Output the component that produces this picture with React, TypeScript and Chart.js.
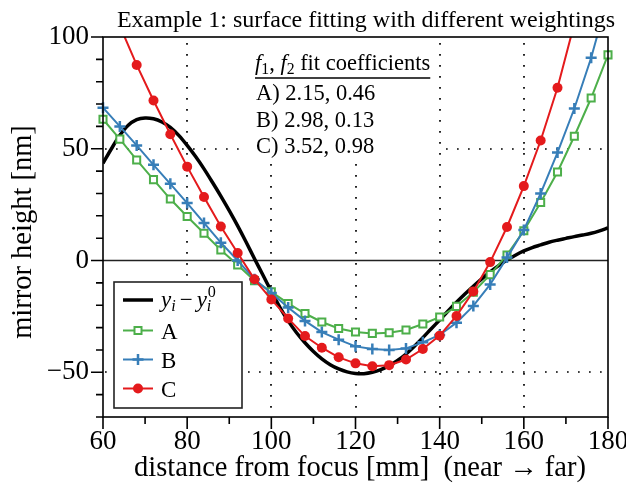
import React, { useEffect, useRef } from 'react';
import { Chart, registerables } from 'chart.js';

Chart.register(...registerables);

// ---------------- data ----------------
const fitX = [60, 64, 68, 72, 76, 80, 84, 88, 92, 96, 100, 104, 108, 112, 116, 120, 124, 128, 132, 136, 140, 144, 148, 152, 156, 160, 164, 168, 172, 176, 180];
const seriesA = [63.2, 54.3, 45, 36.2, 27.5, 19.7, 12.2, 4.7, -2, -9, -14, -19.2, -23.7, -27.5, -30.4, -32, -32.6, -32.3, -31.1, -28.4, -25.3, -20.5, -14.2, -6.3, 2.5, 13.3, 26, 39.6, 55.6, 72.7, 92];
const seriesB = [68.4, 60, 51.5, 42.8, 34.3, 25.7, 16.8, 8, 0, -8.4, -14.5, -21, -27, -32, -35.4, -38.4, -39.6, -40, -39.3, -36.6, -33.3, -27.8, -20.3, -10.7, 1.3, 13.7, 30, 48.3, 68, 90.7, 118];
const seriesC = [122, 105, 87.5, 71.6, 56.5, 42, 28.4, 15.2, 3.4, -8.4, -17.4, -25.9, -33.8, -39, -43.3, -46, -47.3, -46.8, -44.3, -39.6, -33.6, -24.8, -13.8, -0.7, 15, 33.3, 53.7, 77.3, 106, 140, 175];

const refX = [60, 62, 64, 66, 68, 70, 72, 74, 76, 78, 80, 82, 84, 86, 88, 90, 92, 94, 96, 98, 100, 102, 104, 106, 108, 110, 112, 114, 116, 118, 120, 122, 124, 126, 128, 130, 132, 134, 136, 138, 140, 142, 144, 146, 148, 150, 152, 154, 156, 158, 160, 162, 164, 166, 168, 170, 172, 174, 176, 178, 180];
const refY = [43.5, 50, 56, 60.5, 63, 63.8, 63.4, 62, 59.6, 56, 51.5, 46.5, 41, 35, 28.8, 22.3, 15.5, 8.3, 0.8, -6.5, -13.8, -20.8, -27, -32.3, -36.8, -40.7, -44, -46.6, -48.5, -49.8, -50.5, -50.6, -50, -48.8, -47, -44.7, -41.8, -38.3, -34.5, -30.5, -26.6, -22.6, -18.7, -15, -11.5, -8.2, -5.1, -2.3, 0.2, 2.4, 4.3, 5.8, 7, 8.2, 9.1, 9.9, 10.7, 11.4, 12.2, 13.3, 14.6];

const xTicks = [60, 80, 100, 120, 140, 160, 180];
const yTicks = [-50, 0, 50, 100];
const xGridDotted = [80, 100, 120, 140, 160];
const yGridDotted = [-50, 50];
const seriesNames = ['A', 'B', 'C'];
const coefficientRows = ['A) 2.15, 0.46', 'B) 2.98, 0.13', 'C) 3.52, 0.98'];

const titleText = 'Example 1: surface fitting with different weightings';
const xTitle = 'distance from focus [mm]  (near \u2192 far)';
const yTitle = 'mirror height [nm]';

const GREEN = '#4daf4a';
const BLUE = '#377eb8';
const RED = '#e41a1c';
const FONT = '"Liberation Serif", "Times New Roman", serif';
const FS_TICK = 27;
const FS_AXIS = 28.5;
const FS_TITLE = 24;
const FS_BOX = 22.5;
const FS_LEG = 23;

function drawMarker(ctx: CanvasRenderingContext2D, style: string, x: number, y: number, color: string) {
  ctx.save();
  ctx.strokeStyle = color;
  ctx.fillStyle = color;
  if (style === 'rect') {
    ctx.lineWidth = 2;
    ctx.fillStyle = '#fff';
    ctx.beginPath();
    ctx.rect(x - 3.5, y - 3.5, 7, 7);
    ctx.fill();
    ctx.stroke();
  } else if (style === 'cross') {
    ctx.lineWidth = 2.5;
    ctx.beginPath();
    ctx.moveTo(x - 5.5, y);
    ctx.lineTo(x + 5.5, y);
    ctx.moveTo(x, y - 5.5);
    ctx.lineTo(x, y + 5.5);
    ctx.stroke();
  } else {
    ctx.beginPath();
    ctx.arc(x, y, 5, 0, Math.PI * 2);
    ctx.fill();
  }
  ctx.restore();
}

const decor = {
  id: 'decor',
  beforeDatasetsDraw(chart: any) {
    const { ctx, chartArea: a, scales } = chart;
    const xs = scales.x;
    const ys = scales.y;
    ctx.save();
    ctx.strokeStyle = '#000';
    ctx.lineWidth = 1.7;
    ctx.setLineDash([1.7, 9.3]);
    for (const gx of xGridDotted) {
      const px = Math.round(xs.getPixelForValue(gx));
      ctx.beginPath();
      ctx.moveTo(px, a.top + 6);
      ctx.lineTo(px, a.bottom);
      ctx.stroke();
    }
    for (const gy of yGridDotted) {
      const py = Math.round(ys.getPixelForValue(gy));
      ctx.beginPath();
      ctx.moveTo(a.left + 2, py);
      ctx.lineTo(a.right, py);
      ctx.stroke();
    }
    ctx.setLineDash([]);
    const y0 = ys.getPixelForValue(0);
    ctx.strokeStyle = '#222';
    ctx.lineWidth = 1.6;
    ctx.beginPath();
    ctx.moveTo(a.left, y0);
    ctx.lineTo(a.right, y0);
    ctx.stroke();
    // white backgrounds for text block and legend
    ctx.fillStyle = '#fff';
    ctx.fillRect(a.left + 138, a.top + 1, 196, 121);
    ctx.fillRect(a.left + 11, 282, 128, 126);
    ctx.restore();
  },
  afterDatasetsDraw(chart: any) {
    const { ctx, chartArea: a, scales } = chart;
    const xs = scales.x;
    const ys = scales.y;
    ctx.save();
    // frame
    ctx.strokeStyle = '#000';
    ctx.lineWidth = 1.6;
    ctx.strokeRect(a.left, a.top, a.right - a.left, a.bottom - a.top);
    // ticks
    ctx.beginPath();
    for (let v = 60; v <= 180; v += 10) {
      const px = xs.getPixelForValue(v);
      const len = v % 20 === 0 ? 12 : 7;
      ctx.moveTo(px, a.bottom);
      ctx.lineTo(px, a.bottom + len);
    }
    for (let v = -70; v <= 100; v += 10) {
      const py = ys.getPixelForValue(v);
      const len = v % 50 === 0 ? 12 : 7;
      ctx.moveTo(a.left, py);
      ctx.lineTo(a.left - len, py);
    }
    ctx.stroke();

    // x tick labels
    ctx.fillStyle = '#000';
    ctx.textAlign = 'center';
    ctx.textBaseline = 'alphabetic';
    ctx.font = `${FS_TICK}px ${FONT}`;
    for (const v of xTicks) {
      ctx.fillText(String(v), xs.getPixelForValue(v), a.bottom + 32);
    }

    // text block with coefficients
    ctx.textAlign = 'left';
    let tx = 255;
    const hy = 70;
    const put = (s: string, font: string, dy = 0) => {
      ctx.font = font;
      ctx.fillText(s, tx, hy + dy);
      tx += ctx.measureText(s).width;
    };
    put('f', `italic ${FS_BOX}px ${FONT}`);
    put('1', `${FS_BOX * 0.7}px ${FONT}`, 4);
    put(', ', `${FS_BOX}px ${FONT}`);
    put('f', `italic ${FS_BOX}px ${FONT}`);
    put('2', `${FS_BOX * 0.7}px ${FONT}`, 4);
    put(' fit coefficients', `${FS_BOX}px ${FONT}`);
    ctx.lineWidth = 1.4;
    ctx.beginPath();
    ctx.moveTo(255, 78);
    ctx.lineTo(tx, 78);
    ctx.stroke();
    ctx.font = `${FS_BOX}px ${FONT}`;
    coefficientRows.forEach((row, i) => {
      ctx.fillText(row, 256, 100 + i * 26.5);
    });

    // legend
    const lx = a.left + 11;
    ctx.strokeStyle = '#222';
    ctx.lineWidth = 1.6;
    ctx.strokeRect(lx, 282, 128, 126);
    const rowsY = [300, 330.5, 359.5, 388.5];
    ctx.strokeStyle = '#000';
    ctx.lineWidth = 3.5;
    ctx.beginPath();
    ctx.moveTo(123, rowsY[0]);
    ctx.lineTo(153, rowsY[0]);
    ctx.stroke();
    const cols = [GREEN, BLUE, RED];
    const styles = ['rect', 'cross', 'circle'];
    for (let i = 0; i < 3; i++) {
      ctx.strokeStyle = cols[i];
      ctx.lineWidth = 2;
      ctx.beginPath();
      ctx.moveTo(123, rowsY[i + 1]);
      ctx.lineTo(153, rowsY[i + 1]);
      ctx.stroke();
      drawMarker(ctx, styles[i], 138, rowsY[i + 1], cols[i]);
      ctx.fillStyle = '#000';
      ctx.font = `${FS_LEG}px ${FONT}`;
      ctx.fillText(seriesNames[i], 161, rowsY[i + 1] + 8);
    }
    // y_i - y_i^0
    ctx.fillStyle = '#000';
    let ex = 161;
    const by = rowsY[0] + 7;
    const seg = (s: string, font: string, dy = 0, adv = true) => {
      ctx.font = font;
      ctx.fillText(s, ex, by + dy);
      const w = ctx.measureText(s).width;
      if (adv) ex += w;
      return w;
    };
    seg('y', `italic ${FS_LEG}px ${FONT}`);
    seg('i', `italic ${FS_LEG * 0.7}px ${FONT}`, 4);
    ex += 4;
    seg('\u2212', `${FS_LEG}px ${FONT}`);
    ex += 4;
    seg('y', `italic ${FS_LEG}px ${FONT}`);
    const sx = ex;
    seg('i', `italic ${FS_LEG * 0.7}px ${FONT}`, 4, false);
    ex = sx + 1;
    seg('0', `${FS_LEG * 0.7}px ${FONT}`, -10);

    // titles
    ctx.textAlign = 'center';
    ctx.font = `${FS_TITLE}px ${FONT}`;
    ctx.fillText(titleText, 366, 27);
    ctx.font = `${FS_AXIS}px ${FONT}`;
    ctx.fillText(xTitle, 360, 476);
    ctx.translate(31, 232);
    ctx.rotate(-Math.PI / 2);
    ctx.fillText(yTitle, 0, 0);
    ctx.restore();
  },
};

export default function App() {
  const ref = useRef<HTMLCanvasElement>(null);
  useEffect(() => {
    const canvas = ref.current;
    if (!canvas) return;
    const mk = (ys: number[]) => fitX.map((x, i) => ({ x, y: ys[i] }));
    const clipBox = { left: 10, right: 10, top: 0, bottom: 0 };
    const chart = new Chart(canvas, {
      type: 'line',
      data: {
        datasets: [
          {
            label: 'ref',
            data: refX.map((x, i) => ({ x, y: refY[i] })),
            borderColor: '#000',
            borderWidth: 3.5,
            pointRadius: 0,
            tension: 0.3,
            order: 4,
            clip: 0,
          },
          {
            label: 'A',
            data: mk(seriesA),
            borderColor: GREEN,
            borderWidth: 2,
            pointStyle: 'rect',
            pointRadius: 5,
            pointBorderWidth: 2,
            pointBackgroundColor: '#fff',
            pointBorderColor: GREEN,
            order: 3,
            clip: clipBox,
          },
          {
            label: 'B',
            data: mk(seriesB),
            borderColor: BLUE,
            borderWidth: 2,
            pointStyle: 'cross',
            pointRadius: 5.5,
            pointBorderWidth: 2.5,
            pointBorderColor: BLUE,
            order: 2,
            clip: clipBox,
          },
          {
            label: 'C',
            data: mk(seriesC),
            borderColor: RED,
            borderWidth: 2,
            pointStyle: 'circle',
            pointRadius: 5,
            pointBorderWidth: 0,
            pointBackgroundColor: RED,
            order: 1,
            clip: clipBox,
          },
        ] as any,
      },
      options: {
        animation: false,
        responsive: false,
        events: [],
        layout: { padding: { left: 0, right: 18, top: 37, bottom: 0 } },
        plugins: { legend: { display: false }, tooltip: { enabled: false }, title: { display: false } },
        scales: {
          x: {
            type: 'linear',
            min: 60,
            max: 180,
            grid: { display: false, drawTicks: false },
            border: { display: false },
            afterBuildTicks: (s: any) => {
              s.ticks = xTicks.map((v) => ({ value: v }));
            },
            afterFit: (s: any) => {
              s.height = 74;
              s.paddingLeft = 0;
              s.paddingRight = 0;
            },
            ticks: { display: false },
          },
          y: {
            type: 'linear',
            min: -70,
            max: 100,
            grid: { display: false, drawTicks: false },
            border: { display: false },
            afterBuildTicks: (s: any) => {
              s.ticks = yTicks.map((v) => ({ value: v }));
            },
            afterFit: (s: any) => {
              s.width = 103;
              s.paddingTop = 0;
              s.paddingBottom = 0;
            },
            ticks: {
              color: '#000',
              font: { family: FONT, size: FS_TICK },
              padding: 14,
              callback: (v: any) => String(v).replace('-', '\u2212'),
            },
          },
        },
      } as any,
      plugins: [decor],
    });
    return () => chart.destroy();
  }, []);
  return (
    <div style={{ position: 'absolute', left: 0, top: 0, width: 626, height: 491, background: '#fff' }}>
      <canvas ref={ref} width={626} height={491} style={{ display: 'block' }} />
    </div>
  );
}
